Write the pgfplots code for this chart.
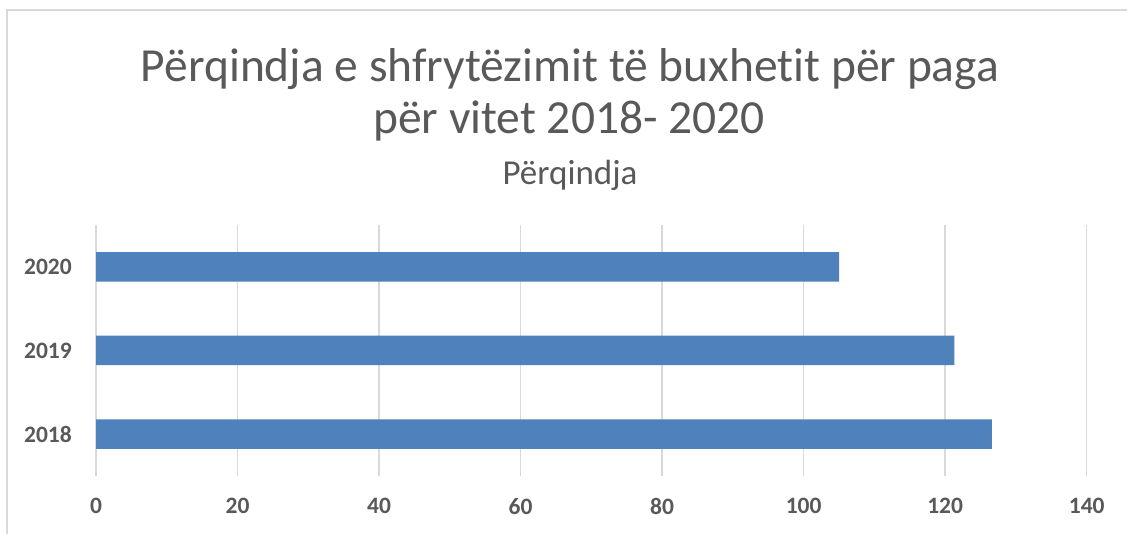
\documentclass[border=0pt]{standalone}
\usepackage{pgfplots}
\pgfplotsset{compat=1.18}
\usepackage{fontspec}
\setmainfont{Carlito}[Ligatures={NoCommon}]
\definecolor{barblue}{HTML}{4F81BD}
\definecolor{txtgray}{HTML}{595959}
\definecolor{gridgray}{HTML}{D9D9D9}
\begin{document}
\begin{tikzpicture}[x=1bp,y=1bp]
\useasboundingbox (0,0) rectangle (1127,534);
\fill[white] (0,0) rectangle (1127,534);
\draw[gridgray, line width=1.5bp] (7,-20) -- (7,524) -- (1150,524);
\node[anchor=base, text=txtgray, font=\fontsize{47.5bp}{55bp}\selectfont] at (570,452) {Përqindja e shfrytëzimit të buxhetit për paga};
\node[anchor=base, text=txtgray, font=\fontsize{47.5bp}{55bp}\selectfont] at (569,400) {për vitet 2018- 2020};
\node[anchor=base, text=txtgray, font=\fontsize{35bp}{40bp}\selectfont] at (570,349) {Përqindja};
\begin{axis}[
  at={(96bp,58bp)}, anchor=south west,
  scale only axis, width=990.7bp, height=251bp,
  xbar, bar width=29.5bp,
  xmin=0, xmax=140, ymin=-0.5, ymax=2.5,
  xtick={0,20,...,140},
  ytick={0,1,2}, yticklabels={2018,2019,2020},
  axis line style={draw=none},
  major tick length=0pt,
  xmajorgrids, major grid style={gridgray, line width=1.5bp},
  /pgf/number format/assume math mode=true,
  tick label style={text=txtgray, font=\fontsize{23.5bp}{26bp}\selectfont\bfseries},
  xticklabel style={inner sep=0pt, anchor=north, yshift=-22bp},
  yticklabel style={inner sep=0pt, anchor=east, xshift=-24bp},
]
\addplot[fill=barblue, draw=none] coordinates {(126.6,0) (121.3,1) (105.0,2)};
\end{axis}
\end{tikzpicture}
\end{document}
